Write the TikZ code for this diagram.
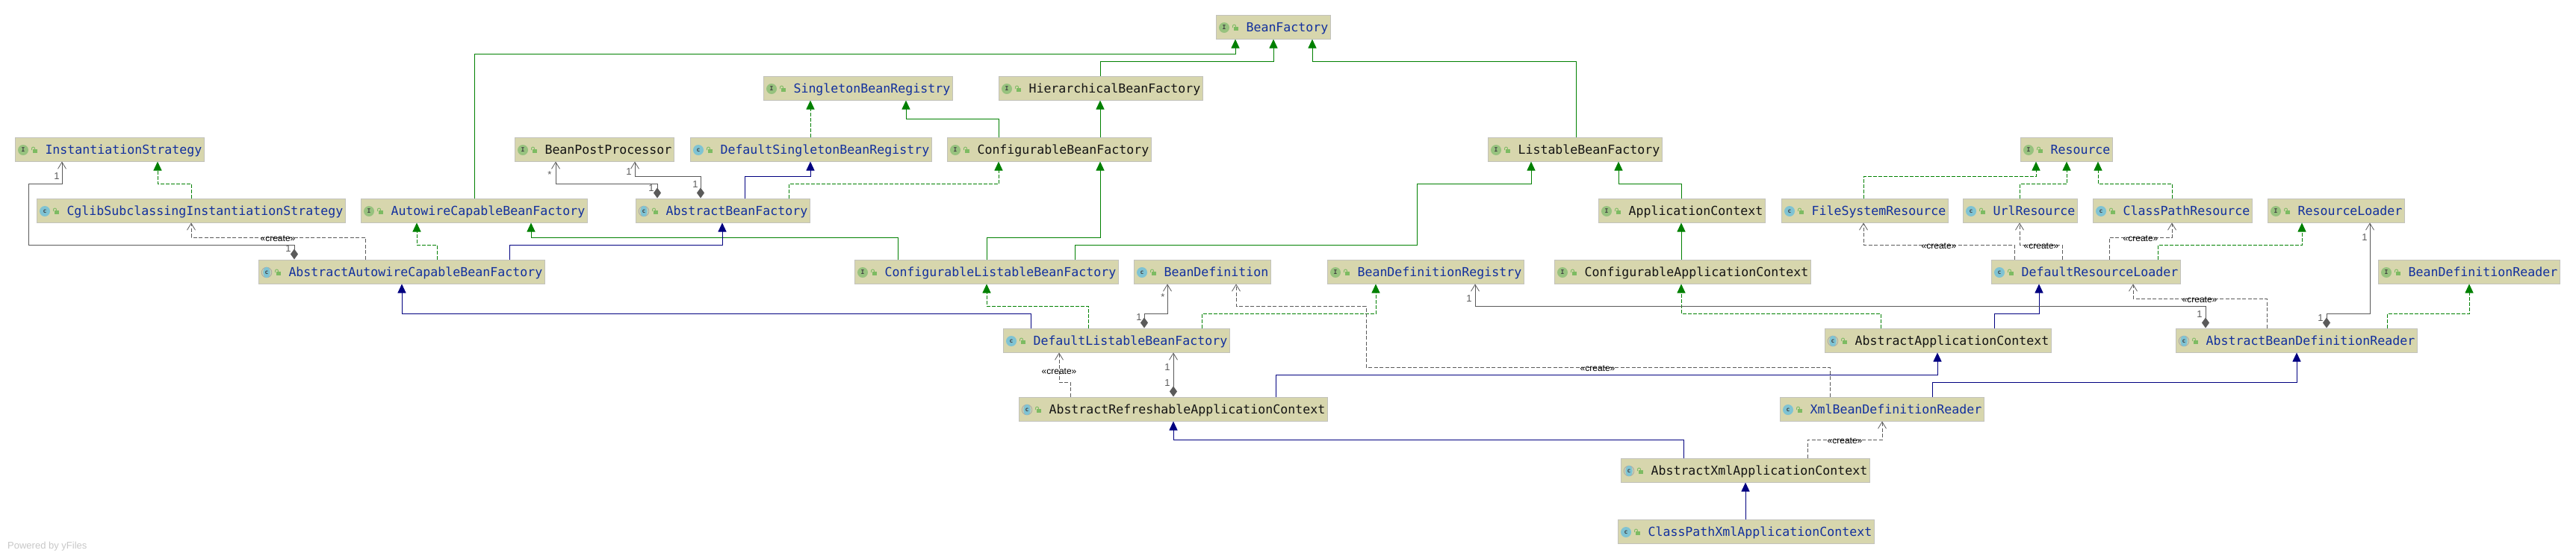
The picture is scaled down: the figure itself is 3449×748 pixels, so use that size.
\documentclass[tikz,border=0pt]{standalone}
\usepackage{fontspec}
\setmainfont{Liberation Sans}
\newfontfamily\beanfont{DejaVu Sans Mono}
\usetikzlibrary{arrows.meta}

\definecolor{beanfill}{HTML}{D7D6AD}
\definecolor{beanedge}{HTML}{C2C2BC}
\definecolor{beanblue}{HTML}{12309E}
\definecolor{beanblack}{HTML}{141414}
\definecolor{extgreen}{HTML}{008000}
\definecolor{extnavy}{HTML}{000080}
\definecolor{assocgray}{HTML}{5A5A5A}
\definecolor{ifacegreen}{HTML}{97C27E}
\definecolor{clsteal}{HTML}{7FC3D3}
\definecolor{lockgreen}{HTML}{7DBB62}

\newcommand{\lockicon}{%
    \fill[lockgreen] (24,0) rectangle (30,5);
    \draw[lockgreen, line width=0.9pt] (22.5,1) -- (22.5,-1) arc[start angle=180, end angle=0, radius=2pt] -- (26.5,0);
}

\tikzset{
    glyph/.style={inner sep=0pt, text=black!75, font=\beanfont\bfseries\fontsize{8}{8}\selectfont},
    bean/.style={draw=beanedge, line width=1pt, fill=beanfill, anchor=west, inner xsep=3pt, inner ysep=0pt,
        minimum height=32pt, text height=12pt, text depth=0pt, text=beanblue,
        font=\beanfont\fontsize{16.6}{18}\selectfont, execute at begin node={\hspace*{37pt}}},
    plain/.style={text=beanblack},
    extends/.style={extgreen, line width=1pt, -{Triangle[length=12pt, width=11pt]}},
    extendsnavy/.style={extnavy, line width=1pt, -{Triangle[length=12pt, width=11pt]}},
    implements/.style={extends, dash pattern=on 5pt off 2pt},
    creates/.style={assocgray, line width=1pt, dash pattern=on 5pt off 2.5pt, -{Straight Barb[length=9pt, width=11pt, line width=0.8pt]}},
    assoc/.style={assocgray, line width=1pt, {Diamond[length=14pt, width=10pt]}-{Straight Barb[length=9pt, width=11pt, line width=0.8pt]}},
    stereo/.style={inner sep=0pt, text=black, font=\fontsize{12}{12}\selectfont},
    card/.style={inner sep=0pt, text=assocgray, font=\fontsize{13}{13}\selectfont},
}

\begin{document}
\begin{tikzpicture}[x=1pt, y=-1pt]
    \useasboundingbox (0,0) rectangle (3449,748);

    % Bean factory side
    \node[bean] (beanfactory) at (1628,36) {BeanFactory};
    \node[bean] (singleton) at (1022,118) {SingletonBeanRegistry};
    \node[bean, plain] (hierarchical) at (1337,118) {HierarchicalBeanFactory};
    \node[bean] (instantiation) at (20,200) {InstantiationStrategy};
    \node[bean, plain] (postprocessor) at (689,200) {BeanPostProcessor};
    \node[bean] (defaultsingleton) at (924,200) {DefaultSingletonBeanRegistry};
    \node[bean, plain] (configurable) at (1268,200) {ConfigurableBeanFactory};
    \node[bean, plain] (listable) at (1992,200) {ListableBeanFactory};
    \node[bean] (cglib) at (49,282) {CglibSubclassingInstantiationStrategy};
    \node[bean] (autowirecapable) at (483,282) {AutowireCapableBeanFactory};
    \node[bean] (abstractfactory) at (851,282) {AbstractBeanFactory};
    \node[bean, plain] (appcontext) at (2140,282) {ApplicationContext};
    \node[bean] (abstractautowire) at (346,364) {AbstractAutowireCapableBeanFactory};
    \node[bean] (configlistable) at (1144,364) {ConfigurableListableBeanFactory};
    \node[bean] (beandefinition) at (1518,364) {BeanDefinition};
    \node[bean] (defregistry) at (1777,364) {BeanDefinitionRegistry};
    \node[bean, plain] (configcontext) at (2081,364) {ConfigurableApplicationContext};
    \node[bean] (defaultlistable) at (1343,456) {DefaultListableBeanFactory};
    \node[bean, plain] (abstractrefresh) at (1364,548) {AbstractRefreshableApplicationContext};

    % Resource side
    \node[bean] (resource) at (2705,200) {Resource};
    \node[bean] (filesystem) at (2385,282) {FileSystemResource};
    \node[bean] (urlresource) at (2628,282) {UrlResource};
    \node[bean] (classpathres) at (2802,282) {ClassPathResource};
    \node[bean] (resourceloader) at (3036,282) {ResourceLoader};
    \node[bean] (defaultloader) at (2666,364) {DefaultResourceLoader};
    \node[bean] (defreader) at (3184,364) {BeanDefinitionReader};
    \node[bean, plain] (abstractcontext) at (2443,456) {AbstractApplicationContext};
    \node[bean] (abstractreader) at (2913,456) {AbstractBeanDefinitionReader};
    \node[bean] (xmlreader) at (2383,548) {XmlBeanDefinitionReader};
    \node[bean, plain] (abstractxml) at (2170,630) {AbstractXmlApplicationContext};
    \node[bean] (classpathxml) at (2166,712) {ClassPathXmlApplicationContext};

    % Icons
    \foreach \bn in {beanfactory, singleton, hierarchical, instantiation, postprocessor, configurable, listable,
            autowirecapable, appcontext, configlistable, defregistry, configcontext, resource, resourceloader, defreader} {
        \begin{scope}[shift={(\bn.west)}]
            \fill[ifacegreen] (11,1) circle[radius=7pt];
            \node[glyph] (\bn-mark) at (11,1) {I};
            \lockicon
        \end{scope}
    }
    \foreach \bn in {defaultsingleton, cglib, beandefinition, defaultlistable, filesystem, urlresource, classpathres,
            defaultloader, xmlreader, classpathxml} {
        \begin{scope}[shift={(\bn.west)}]
            \fill[clsteal] (11,1) circle[radius=7pt];
            \node[glyph] (\bn-mark) at (11,1) {c};
            \lockicon
        \end{scope}
    }
    \foreach \bn in {abstractfactory, abstractautowire, abstractrefresh, abstractcontext, abstractreader, abstractxml} {
        \begin{scope}[shift={(\bn.west)}]
            \draw[gray!70, line width=0.8pt] (11,1) circle[radius=6.8pt];
            \fill[clsteal] (11,1) ellipse[x radius=4.8pt, y radius=7.2pt];
            \node[glyph] (\bn-mark) at (11,1) {c};
            \lockicon
        \end{scope}
    }

    % Plain inheritance
    \draw[extends] (autowirecapable.north -| 635,0) |- (1654,72) -- (beanfactory.south -| 1654,0);
    \draw[extends] (hierarchical.north -| 1473,0) |- (1705,82) -- (beanfactory.south -| 1705,0);
    \draw[extends] (listable.north -| 2110,0) |- (1757,82) -- (beanfactory.south -| 1757,0);
    \draw[extends] (configurable.north -| 1473,0) -- (hierarchical.south -| 1473,0);
    \draw[extends] (configurable.north -| 1337,0) |- (1213,159) -- (singleton.south -| 1213,0);
    \draw[extends] (configlistable.north -| 1202,0) |- (711,318) -- (autowirecapable.south -| 711,0);
    \draw[extends] (configlistable.north -| 1321,0) |- (1473,318) -- (configurable.south -| 1473,0);
    \draw[extends] (configlistable.north -| 1439,0) |- (1897,328) |- (2050,246) -- (listable.south -| 2050,0);
    \draw[extends] (appcontext.north -| 2251,0) |- (2167,246) -- (listable.south -| 2167,0);
    \draw[extends] (configcontext.north -| 2251,0) -- (appcontext.south -| 2251,0);

    \draw[extendsnavy] (abstractfactory.north -| 997,0) |- (1085,236) -- (defaultsingleton.south -| 1085,0);
    \draw[extendsnavy] (abstractautowire.north -| 682,0) |- (967,328) -- (abstractfactory.south -| 967,0);
    \draw[extendsnavy] (defaultlistable.north -| 1380,0) |- (538,420) -- (abstractautowire.south -| 538,0);
    \draw[extendsnavy] (abstractcontext.north -| 2670,0) |- (2730,420) -- (defaultloader.south -| 2730,0);
    \draw[extendsnavy] (abstractrefresh.north -| 1708,0) |- (2594,502) -- (abstractcontext.south -| 2594,0);
    \draw[extendsnavy] (xmlreader.north -| 2587,0) |- (3075,512) -- (abstractreader.south -| 3075,0);
    \draw[extendsnavy] (abstractxml.north -| 2254,0) |- (1571,589) -- (abstractrefresh.south -| 1571,0);
    \draw[extendsnavy] (classpathxml.north -| 2337,0) -- (abstractxml.south -| 2337,0);

    % Interfaces
    \draw[implements] (cglib.north -| 256,0) |- (211,246) -- (instantiation.south -| 211,0);
    \draw[implements] (abstractautowire.north -| 585,0) |- (558,328) -- (autowirecapable.south -| 558,0);
    \draw[implements] (defaultsingleton.north -| 1085,0) -- (singleton.south -| 1085,0);
    \draw[implements] (abstractfactory.north -| 1056,0) |- (1337,246) -- (configurable.south -| 1337,0);
    \draw[implements] (defaultlistable.north -| 1457,0) |- (1321,410) -- (configlistable.south -| 1321,0);
    \draw[implements] (defaultlistable.north -| 1609,0) |- (1842,420) -- (defregistry.south -| 1842,0);
    \draw[implements] (abstractcontext.north -| 2518,0) |- (2251,420) -- (configcontext.south -| 2251,0);
    \draw[implements] (filesystem.north -| 2495,0) |- (2726,236) -- (resource.south -| 2726,0);
    \draw[implements] (urlresource.north -| 2704,0) |- (2767,246) -- (resource.south -| 2767,0);
    \draw[implements] (classpathres.north -| 2908,0) |- (2809,246) -- (resource.south -| 2809,0);
    \draw[implements] (defaultloader.north -| 2889,0) |- (3082,328) -- (resourceloader.south -| 3082,0);
    \draw[implements] (abstractreader.north -| 3196,0) |- (3306,420) -- (defreader.south -| 3306,0);

    % Creates
    \draw[creates] (abstractautowire.north -| 489,0) |- (256,318) -- (cglib.south -| 256,0);
    \draw[creates] (defaultloader.north -| 2697,0) |- (2495,328) -- (filesystem.south -| 2495,0);
    \draw[creates] (defaultloader.north -| 2761,0) |- (2704,328) -- (urlresource.south -| 2704,0);
    \draw[creates] (defaultloader.north -| 2824,0) |- (2908,318) -- (classpathres.south -| 2908,0);
    \draw[creates] (abstractreader.north -| 3035,0) |- (2856,400) -- (defaultloader.south -| 2856,0);
    \draw[creates] (abstractrefresh.north -| 1433,0) |- (1418,512) -- (defaultlistable.south -| 1418,0);
    \draw[creates] (xmlreader.north -| 2450,0) |- (1829,492) |- (1655,410) -- (beandefinition.south -| 1655,0);
    \draw[creates] (abstractxml.north -| 2420,0) |- (2520,589) -- (xmlreader.south -| 2520,0);

    % Associations
    \draw[assoc] (abstractautowire.north -| 394,0) |- (38,328) |- (83,246) -- (instantiation.south -| 83,0);
    \draw[assoc] (abstractfactory.north -| 880,0) |- (744,246) -- (postprocessor.south -| 744,0);
    \draw[assoc] (abstractfactory.north -| 938,0) |- (850,236) -- (postprocessor.south -| 850,0);
    \draw[assoc] (defaultlistable.north -| 1532,0) |- (1563,420) -- (beandefinition.south -| 1563,0);
    \draw[assoc] (abstractrefresh.north -| 1571,0) -- (defaultlistable.south -| 1571,0);
    \draw[assoc] (abstractreader.north -| 2953,0) |- (1975,410) -- (defregistry.south -| 1975,0);
    \draw[assoc] (abstractreader.north -| 3115,0) |- (3173,420) -- (resourceloader.south -| 3173,0);

    % Connector labels
    \node[stereo] (create1) at (372,320) {«create»};
    \node[stereo] (create2) at (2596,330) {«create»};
    \node[stereo] (create3) at (2733,330) {«create»};
    \node[stereo] (create4) at (2866,320) {«create»};
    \node[stereo] (create5) at (2945,402) {«create»};
    \node[stereo] (create6) at (1418,498) {«create»};
    \node[stereo] (create7) at (2139,494) {«create»};
    \node[stereo] (create8) at (2470,591) {«create»};

    \node[card] (card1) at (76,236) {1};
    \node[card] (card2) at (386,333) {1};
    \node[card] (card3) at (736,234) {*};
    \node[card] (card4) at (872,252) {1};
    \node[card] (card5) at (842,230) {1};
    \node[card] (card6) at (931,247) {1};
    \node[card] (card7) at (1557,398) {*};
    \node[card] (card8) at (1525,425) {1};
    \node[card] (card9) at (1563,492) {1};
    \node[card] (card10) at (1563,513) {1};
    \node[card] (card11) at (1967,400) {1};
    \node[card] (card12) at (2945,421) {1};
    \node[card] (card13) at (3166,318) {1};
    \node[card] (card14) at (3107,426) {1};

    \node[anchor=west, inner sep=0pt, text=black!22, font=\fontsize{13}{13}\selectfont] (credit) at (10,732) {Powered by yFiles};
\end{tikzpicture}
\end{document}
